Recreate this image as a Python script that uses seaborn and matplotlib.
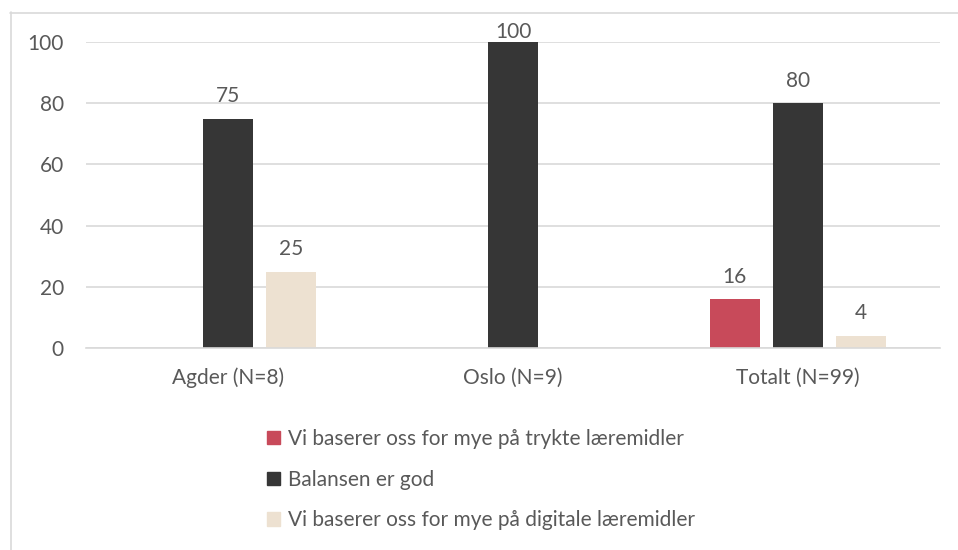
import matplotlib
matplotlib.use("Agg")
import matplotlib.pyplot as plt
from matplotlib.lines import Line2D
import seaborn as sns
import pandas as pd
import numpy as np

categories = ["Agder (N=8)", "Oslo (N=9)", "Totalt (N=99)"]
series = ["Vi baserer oss for mye på trykte læremidler",
          "Balansen er god",
          "Vi baserer oss for mye på digitale læremidler"]
trykte = [np.nan, np.nan, 16]
balanse = [75, 100, 80]
digitale = [25, np.nan, 4]
colors = ["#C84A5A", "#363636", "#EDE1D1"]
yticks = [0, 20, 40, 60, 80, 100]

rows = []
for s, vals in zip(series, [trykte, balanse, digitale]):
    for c, v in zip(categories, vals):
        rows.append({"cat": c, "series": s, "value": v})
df = pd.DataFrame(rows)

sns.set_style("white")
plt.rcParams['font.family'] = ['Lato', 'DejaVu Sans']
text_color = "#595959"
grid_color = "#D9D9D9"
fs = 15

W, H = 958, 550
fig = plt.figure(figsize=(W / 100, H / 100), dpi=100)
ax = fig.add_axes([86 / W, 1 - 348 / H, (940 - 86) / W, (348 - 42) / H])

sns.barplot(data=df, x="cat", y="value", hue="series", order=categories,
            hue_order=series, palette=colors, width=0.663, gap=0.206,
            ax=ax, legend=False, saturation=1, edgecolor="none")

ax.set_ylim(0, 100)
ax.set_yticks(yticks)
ax.set_yticklabels([str(t) for t in yticks])
ax.set_xlabel("")
ax.set_ylabel("")
ax.yaxis.grid(True, color=grid_color, linewidth=1.2)
ax.set_axisbelow(True)
for side in ["left", "right", "top"]:
    ax.spines[side].set_visible(False)
ax.spines["bottom"].set_color(grid_color)
ax.spines["bottom"].set_linewidth(1.2)
ax.tick_params(axis="both", length=0, labelsize=fs, labelcolor=text_color)
ax.tick_params(axis="y", pad=16)
ax.tick_params(axis="x", pad=14)

for cont in ax.containers:
    for bar in cont:
        h = bar.get_height()
        if h is None or np.isnan(h) or h == 0:
            continue
        pad = 0 if h >= 95 else 9
        ax.annotate(f"{h:g}", xy=(bar.get_x() + bar.get_width() / 2, h),
                    xytext=(0, pad), textcoords="offset points",
                    ha="center", va="bottom", fontsize=fs,
                    color=text_color, annotation_clip=False)

handles = [plt.Rectangle((0, 0), 1, 1, color=c) for c in colors]
fig.legend(handles, series, loc="upper left",
           bbox_to_anchor=(248 / W, 1 - 410 / H), frameon=False,
           fontsize=fs, labelcolor=text_color, labelspacing=1.0,
           handlelength=0.62, handleheight=0.62, handletextpad=0.4)

# outer chart border (partially visible)
fig.add_artist(Line2D([10.5 / W, 10.5 / W], [1 - 12 / H, 0], color=grid_color,
                      linewidth=1.2, transform=fig.transFigure))
fig.add_artist(Line2D([10 / W, 1], [1 - 12.5 / H, 1 - 12.5 / H], color=grid_color,
                      linewidth=1.2, transform=fig.transFigure))

fig.savefig("out.png", dpi=100, facecolor="white")
